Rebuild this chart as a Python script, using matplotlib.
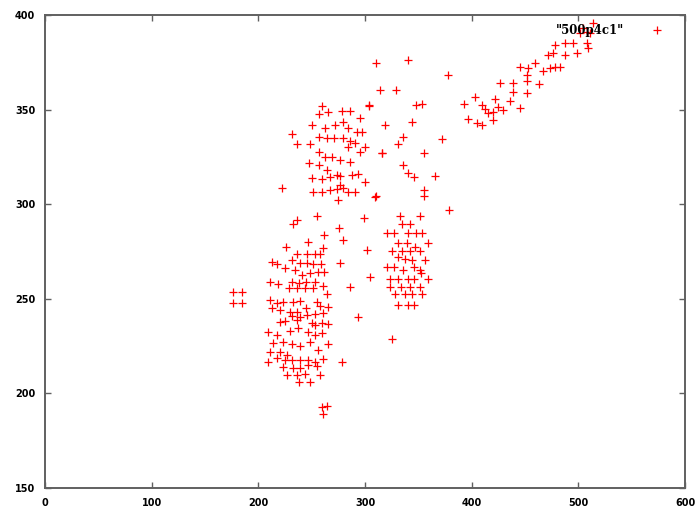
import matplotlib
matplotlib.use("Agg")
import matplotlib.pyplot as plt

# points, grouped by cluster
left_x = [176.6, 184.4, 176.6, 184.4]
left_y = [253.4, 253.4, 247.6, 247.6]

low_x = [254.7, 236.0, 232.8, 275.9, 261.6, 279.7, 246.8, 225.9, 260.3,
         236.0, 245.3, 253.1, 257.8,
         212.5, 217.2, 231.3, 239.1, 245.3, 251.5, 258.5, 276.6,
         225.0, 234.4, 240.6, 248.4, 256.2, 261.6,
         210.9, 218.7, 231.3, 238.4, 244.7, 253.1, 260.3,
         229.0, 236.0, 243.7, 251.5, 264.7,
         210.9, 217.2, 223.4, 232.8, 239.1, 254.7,
         212.5, 220.3, 229.7, 236.0, 244.7, 257.8, 265.6,
         231.3, 239.1, 245.3, 253.1, 260.9,
         220.3, 225.0, 236.0, 250.0, 253.1, 259.4, 265.6,
         209.4, 217.2, 229.7, 237.5, 246.8, 253.1, 259.4,
         214.1, 223.4, 231.3, 239.1, 248.4, 256.2, 265.6,
         210.9, 220.3, 227.2,
         209.4, 217.2, 225.0, 231.3, 239.1, 246.8, 253.1, 260.9, 278.1,
         223.4, 232.2, 239.1, 246.8, 254.7,
         227.2, 236.0, 243.7, 257.8,
         238.4, 248.4,
         259.4, 264.1, 260.9]
low_y = [293.9, 291.6, 289.4, 287.6, 283.7, 281.1, 279.8, 277.5, 277.0,
         273.5, 273.5, 273.5, 273.5,
         269.6, 268.2, 270.5, 268.8, 268.8, 268.2, 268.2, 268.8,
         266.1, 265.2, 262.6, 263.5, 264.0, 264.3,
         258.7, 257.7, 258.7, 258.2, 259.0, 258.7, 256.9,
         255.5, 255.5, 255.9, 255.9, 252.4,
         249.4, 247.6, 248.5, 248.5, 248.8, 248.5,
         245.0, 244.1, 242.8, 243.2, 245.0, 246.4, 245.8,
         241.1, 240.5, 241.4, 241.8, 242.3,
         237.6, 238.3, 238.8, 237.0, 236.2, 237.0, 236.5,
         232.6, 230.9, 233.0, 234.4, 232.3, 230.9, 231.8,
         226.5, 227.3, 225.9, 225.2, 227.3, 222.9, 225.9,
         222.0, 222.0, 220.3,
         216.8, 218.5, 217.7, 217.7, 217.7, 217.7, 216.8, 218.2, 216.8,
         214.1, 213.2, 213.2, 215.0, 214.7,
         209.7, 209.7, 210.1, 209.7,
         206.2, 206.2,
         193.0, 193.5, 189.0]

up_x = [259.4, 257.2, 265.0, 278.1, 285.9, 295.3, 304.0,
        250.0, 262.5, 271.9, 279.7, 284.4, 292.2, 296.9,
        231.3, 235.9, 248.4, 257.2, 264.1, 270.9, 279.7, 285.9, 290.6,
        284.4, 300.0,
        257.2, 262.5, 268.8, 276.6, 285.9, 295.3, 315.6,
        247.8, 257.2, 264.1, 273.4, 250.0, 259.4, 267.2, 276.6, 287.5, 293.7,
        251.5, 259.4, 267.2, 273.4, 279.7, 284.4, 290.6, 276.6, 300.0,
        275.0, 221.9, 309.4]
up_y = [352.1, 347.5, 348.6, 349.3, 349.3, 345.7, 352.1,
        341.9, 340.1, 341.9, 343.6, 340.4, 338.3, 338.3,
        336.9, 331.6, 331.6, 335.7, 335.2, 335.2, 335.2, 333.4, 332.2,
        330.4, 330.4,
        327.8, 325.1, 325.1, 323.4, 322.1, 327.8, 326.9,
        321.6, 320.7, 318.1, 315.4, 313.7, 313.3, 314.5, 315.1, 315.4, 315.8,
        306.6, 306.6, 307.5, 308.0, 308.4, 306.6, 306.3, 310.1, 311.9,
        302.2, 308.4, 304.0]

mid_x = [310.0, 340.0, 378.1, 314.1, 328.8, 303.7, 347.5, 353.1, 318.7,
         344.3, 372.5, 335.9, 330.6, 355.6, 315.6, 335.9, 340.6, 346.2,
         365.6, 355.6, 355.6, 310.0, 378.7, 299.3,
         332.8, 351.6, 334.4, 342.2,
         320.3, 327.5, 340.6, 347.5, 353.1,
         330.6, 339.1, 346.9, 358.8,
         325.6, 334.4, 342.2, 351.6,
         331.2, 337.5, 343.8, 356.2,
         320.3, 327.5, 335.9, 346.2, 351.6,
         323.4, 331.2, 340.6, 346.2, 358.8, 352.5,
         323.4, 333.7, 342.2, 351.6,
         328.1, 337.5, 344.3, 353.1,
         330.6, 340.6, 346.2,
         301.6, 304.7, 293.7, 325.3, 285.6]
mid_y = [374.8, 376.2, 368.3, 360.4, 360.4, 352.4, 352.4, 353.0, 341.9,
         343.6, 334.3, 335.4, 331.8, 326.9, 327.2, 320.7, 316.7, 314.5,
         314.9, 307.5, 304.3, 304.3, 296.9, 292.5,
         293.8, 293.8, 289.5, 289.5,
         284.9, 284.9, 284.9, 284.9, 284.9,
         279.7, 279.5, 277.5, 279.7,
         275.4, 275.4, 275.4, 275.4,
         272.1, 271.0, 270.5, 270.5,
         266.6, 266.6, 265.2, 266.6, 265.2,
         260.3, 260.3, 260.3, 260.3, 260.3, 263.5,
         256.4, 256.4, 256.4, 256.4,
         252.5, 252.5, 252.5, 252.5,
         246.7, 246.7, 246.7,
         275.8, 261.7, 240.5, 228.6, 256.4]

band_x = [403.1, 392.8, 409.4, 412.5, 415.6, 420.3, 425.0, 429.7,
          396.9, 404.7, 409.4, 420.3, 445.3, 435.9, 421.9,
          426.6, 439.0, 438.4, 452.2, 451.6, 451.6, 453.1, 445.3, 459.4,
          463.4, 467.2, 473.4, 478.1, 482.8, 471.9, 476.6,
          478.1, 487.5, 495.3, 507.8, 509.4, 487.5, 498.4,
          504.7, 510.9, 514.0, 507.8, 501.6]
band_y = [356.5, 352.8, 352.4, 350.1, 348.0, 348.9, 351.5, 349.8,
          344.9, 343.1, 341.9, 344.5, 350.7, 354.7, 355.4,
          363.9, 364.2, 359.5, 358.9, 365.3, 368.3, 371.8, 372.4, 374.8,
          363.5, 370.6, 371.8, 372.4, 372.4, 378.9, 380.1,
          384.1, 385.0, 385.0, 385.0, 382.4, 378.9, 379.7,
          393.0, 390.3, 395.6, 391.2, 390.3]

series_name = '"500p4c1"'

x = left_x + low_x + up_x + mid_x + band_x
y = left_y + low_y + up_y + mid_y + band_y

fig = plt.figure(figsize=(6.97, 5.13), dpi=100)
ax = fig.add_axes([45 / 697, 1 - 488 / 513, 640 / 697, 473 / 513])

ax.plot(x, y, "+", color="red", markersize=6, mew=0.9, label=series_name)

ax.set_xlim(0, 600)
ax.set_ylim(150, 400)
ax.set_xticks(range(0, 601, 100))
ax.set_yticks(range(150, 401, 50))

for s in ax.spines.values():
    s.set_color("#606060")
    s.set_linewidth(1.4)
ax.tick_params(direction="in", length=4, width=1, color="#606060",
               top=True, right=True, labelsize=7, pad=7)
for lab in ax.get_xticklabels() + ax.get_yticklabels():
    lab.set_fontweight("bold")

leg = ax.legend(loc="upper right", bbox_to_anchor=(0.99, 1.0), frameon=False,
                markerfirst=False, handletextpad=1.8, borderpad=0.3,
                prop={"size": 8.5, "weight": "bold", "family": "DejaVu Serif"})

fig.savefig("out.png", dpi=100)
